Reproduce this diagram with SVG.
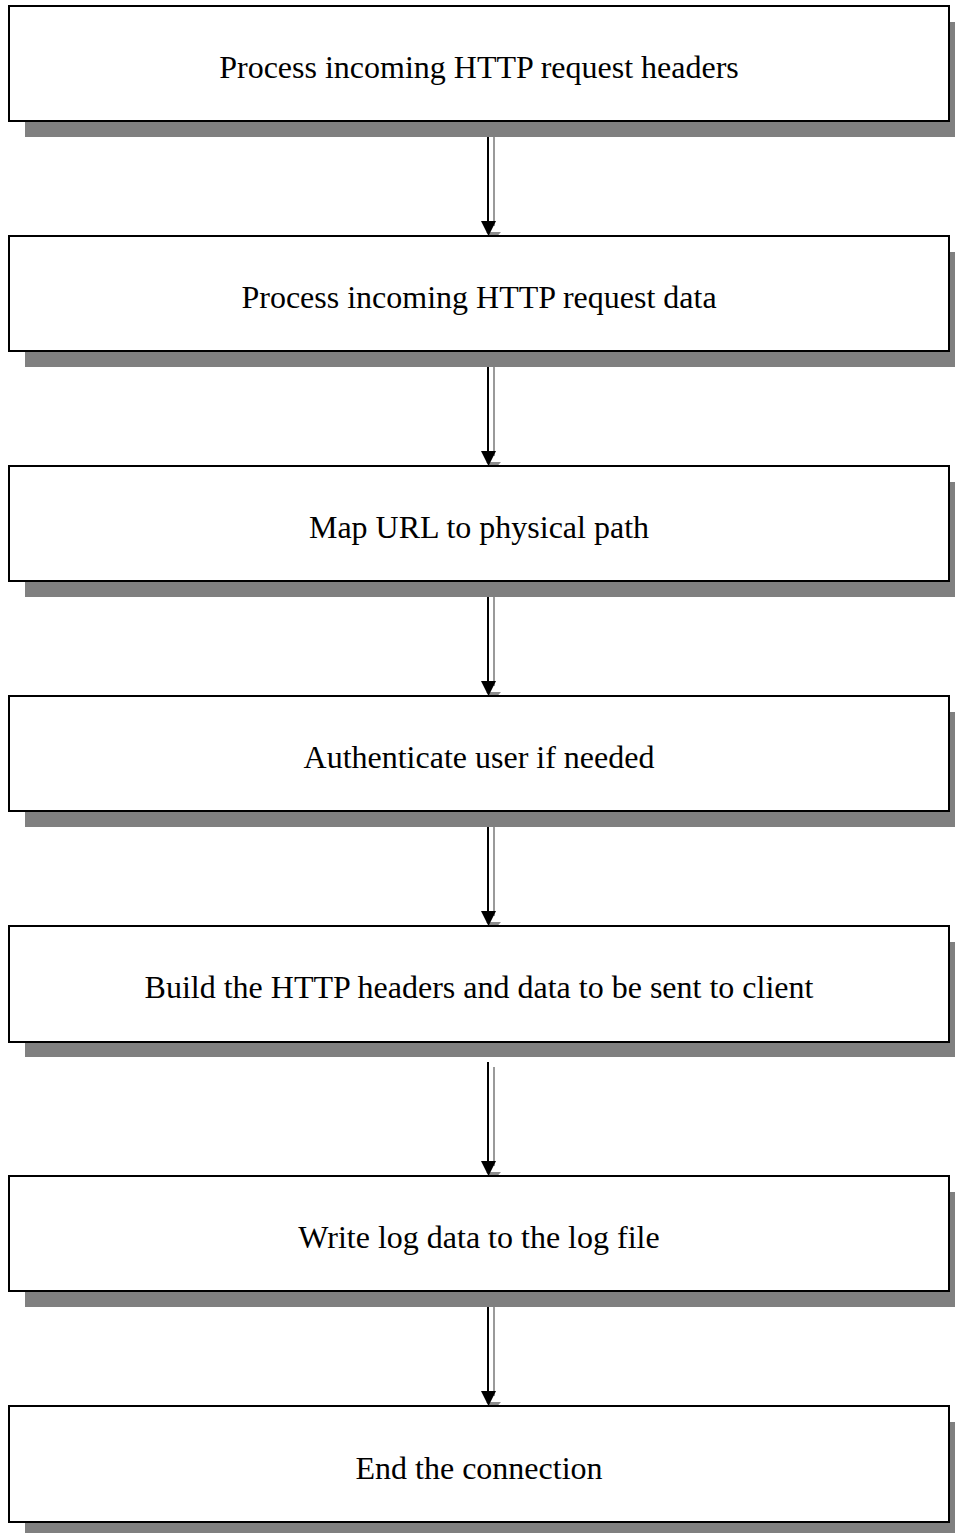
<svg xmlns="http://www.w3.org/2000/svg" width="955" height="1533" viewBox="0 0 955 1533">
  <style>
    .shadow { fill: #808080; }
    .box { fill: #ffffff; stroke: #000000; stroke-width: 2; }
    .label { font-family: "Liberation Serif", "Times New Roman", serif; font-size: 32px; fill: #000000; text-anchor: middle; }
    .line { stroke: #000000; stroke-width: 2; fill: none; }
    .line-shadow { stroke: #9a9a9a; stroke-width: 2; fill: none; }
    .head { fill: #000000; }
    .head-shadow { fill: #8c8c8c; }
  </style>
  <rect width="955" height="1533" fill="#ffffff"/>

  <!-- connectors: each has a gray drop-shadow copy offset to the right -->
  <g id="connectors">
    <g id="c1">
      <line class="line-shadow" x1="494" y1="137" x2="494" y2="226"/>
      <polygon class="head-shadow" points="486,232 501,232 494,240"/>
      <line class="line" x1="488" y1="121" x2="488" y2="222"/>
      <polygon class="head" points="481,221 496,221 488.5,236"/>
    </g>
    <g id="c2">
      <line class="line-shadow" x1="494" y1="367" x2="494" y2="456"/>
      <polygon class="head-shadow" points="486,462 501,462 494,470"/>
      <line class="line" x1="488" y1="351" x2="488" y2="452"/>
      <polygon class="head" points="481,451 496,451 488.5,466"/>
    </g>
    <g id="c3">
      <line class="line-shadow" x1="494" y1="597" x2="494" y2="686"/>
      <polygon class="head-shadow" points="486,692 501,692 494,700"/>
      <line class="line" x1="488" y1="581" x2="488" y2="682"/>
      <polygon class="head" points="481,681 496,681 488.5,696"/>
    </g>
    <g id="c4">
      <line class="line-shadow" x1="494" y1="827" x2="494" y2="916"/>
      <polygon class="head-shadow" points="486,922 501,922 494,930"/>
      <line class="line" x1="488" y1="811" x2="488" y2="912"/>
      <polygon class="head" points="481,911 496,911 488.5,926"/>
    </g>
    <g id="c5">
      <line class="line-shadow" x1="494" y1="1067" x2="494" y2="1166"/>
      <polygon class="head-shadow" points="486,1172 501,1172 494,1180"/>
      <line class="line" x1="488" y1="1062" x2="488" y2="1162"/>
      <polygon class="head" points="481,1161 496,1161 488.5,1176"/>
    </g>
    <g id="c6">
      <line class="line-shadow" x1="494" y1="1307" x2="494" y2="1396"/>
      <polygon class="head-shadow" points="486,1402 501,1402 494,1410"/>
      <line class="line" x1="488" y1="1291" x2="488" y2="1392"/>
      <polygon class="head" points="481,1391 496,1391 488.5,1406"/>
    </g>
  </g>

  <g id="n1">
    <rect class="shadow" x="25" y="22" width="941" height="115"/>
    <rect class="box" x="9" y="6" width="940" height="115"/>
    <text class="label" x="479" y="78">Process incoming HTTP request headers</text>
  </g>
  <g id="n2">
    <rect class="shadow" x="25" y="252" width="941" height="115"/>
    <rect class="box" x="9" y="236" width="940" height="115"/>
    <text class="label" x="479" y="308">Process incoming HTTP request data</text>
  </g>
  <g id="n3">
    <rect class="shadow" x="25" y="482" width="941" height="115"/>
    <rect class="box" x="9" y="466" width="940" height="115"/>
    <text class="label" x="479" y="538">Map URL to physical path</text>
  </g>
  <g id="n4">
    <rect class="shadow" x="25" y="712" width="941" height="115"/>
    <rect class="box" x="9" y="696" width="940" height="115"/>
    <text class="label" x="479" y="768">Authenticate user if needed</text>
  </g>
  <g id="n5">
    <rect class="shadow" x="25" y="942" width="941" height="115"/>
    <rect class="box" x="9" y="926" width="940" height="116"/>
    <text class="label" x="479" y="998">Build the HTTP headers and data to be sent to client</text>
  </g>
  <g id="n6">
    <rect class="shadow" x="25" y="1192" width="941" height="115"/>
    <rect class="box" x="9" y="1176" width="940" height="115"/>
    <text class="label" x="479" y="1248">Write log data to the log file</text>
  </g>
  <g id="n7">
    <rect class="shadow" x="25" y="1422" width="941" height="115"/>
    <rect class="box" x="9" y="1406" width="940" height="116"/>
    <text class="label" x="479" y="1479">End the connection</text>
  </g>
</svg>
